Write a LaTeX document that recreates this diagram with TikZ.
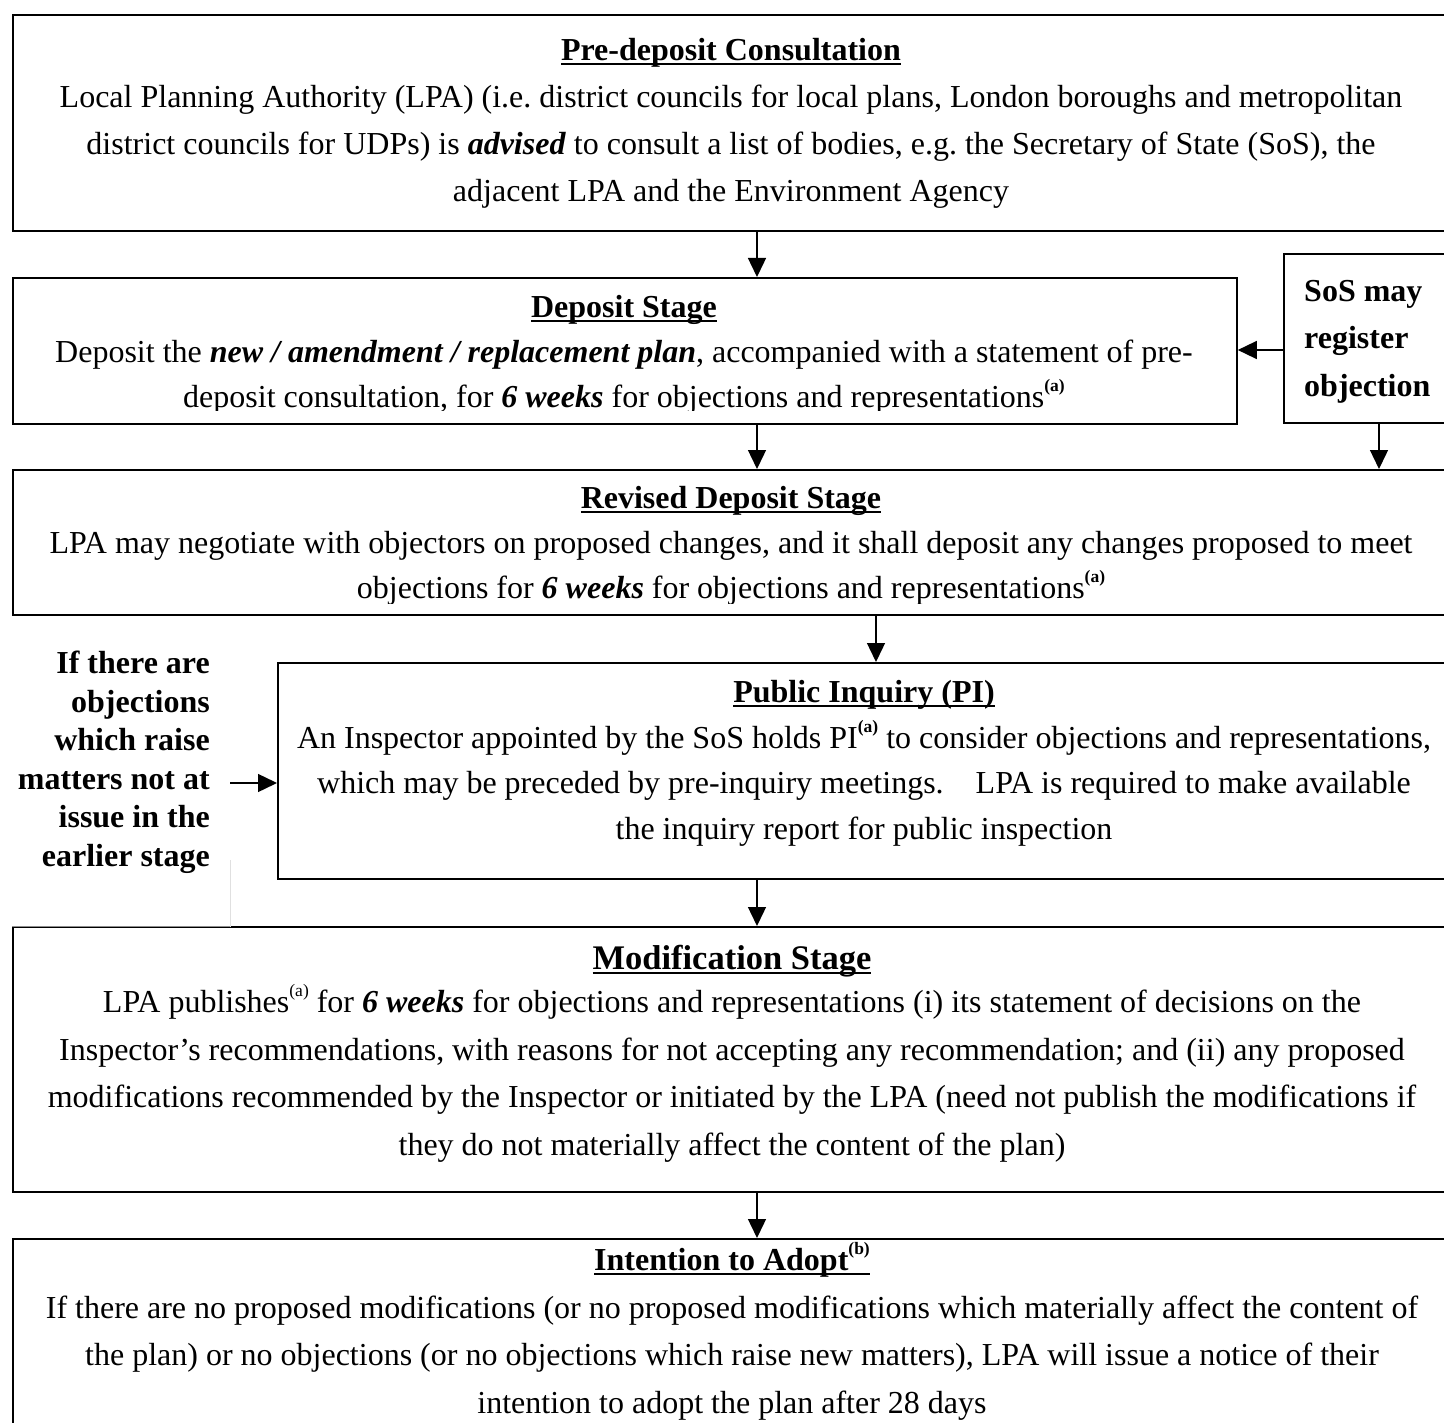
\documentclass[tikz,border=0pt]{standalone}
\usepackage{fontspec}
\setmainfont{Liberation Serif}
\usetikzlibrary{arrows.meta}
\frenchspacing
\newcommand\ttl[1]{\setbox0\hbox{\bfseries #1}\rlap{\rule[-4.5pt]{\wd0}{2pt}}\box0}
\newcommand\supa[1]{\raisebox{0.5em}{\fontsize{17.5}{17.5}\selectfont #1}}
\newcommand\bi[1]{\textbf{\textit{#1}}}
\begin{document}
\begin{tikzpicture}[x=1pt,y=-1pt,
  box/.style={draw=black,line width=1.8pt,rectangle,inner sep=0pt,anchor=north west},
  body/.style={align=center,inner sep=0pt,anchor=base,font=\fontsize{32}{46.5}\selectfont},
  side/.style={inner sep=0pt,font=\bfseries\fontsize{32}{38.5}\selectfont},
  arr/.style={line width=1.4pt,-{Triangle[length=19pt,width=18pt]}}]
\clip (0,0) rectangle (1444,1423);
\fill[white] (0,0) rectangle (1444,1423);
% columns / rows for connectors
\coordinate (colA) at (757,0);
\coordinate (colB) at (876,0);
\coordinate (colC) at (1379,0);
\coordinate (rowS) at (0,350);
\coordinate (lblend) at (230,783);
% boxes
\node[box,minimum width=1439pt,minimum height=216pt] (b1) at (12,14) {};
\node[box,minimum width=1224pt,minimum height=146pt] (b2) at (12,277) {};
\node[box,minimum width=168pt,minimum height=169pt] (sos) at (1283,253) {};
\node[box,minimum width=1439pt,minimum height=145pt] (b3) at (12,469) {};
\node[box,minimum width=1174pt,minimum height=216pt] (b4) at (277,662) {};
\node[box,minimum width=1439pt,minimum height=265pt] (b5) at (12,926) {};
\node[box,minimum width=1439pt,minimum height=260pt] (b6) at (12,1238) {};
% texts (anchor base = baseline of the last line)
\node[body,font=\fontsize{32}{47.3}\selectfont] (t1) at (731,202) {\ttl{Pre-deposit Consultation}\\
Local Planning Authority (LPA) (i.e. district councils for local plans, London boroughs and metropolitan\\
district councils for UDPs) is \bi{advised} to consult a list of bodies, e.g. the Secretary of State (SoS), the\\
adjacent LPA and the Environment Agency};
\begin{scope}
\clip (0,0) rectangle (1444,411);
\node[body,font=\fontsize{32}{45}\selectfont] (t2) at (624,407) {\ttl{Deposit Stage}\\
Deposit the \bi{new / amendment / replacement plan}, accompanied with a statement of pre-\\
deposit consultation, for \bi{6 weeks} for objections and representations\supa{\bfseries(a)}};
\end{scope}
\node[side,align=left,anchor=base west,font=\bfseries\fontsize{32}{47.5}\selectfont] (sost) at (1304,396) {SoS may\\register\\objection};
\begin{scope}
\clip (0,0) rectangle (1444,603);
\node[body,font=\fontsize{32}{45}\selectfont] (t3) at (731,598) {\ttl{Revised Deposit Stage}\\
LPA may negotiate with objectors on proposed changes, and it shall deposit any changes proposed to meet\\
objections for \bi{6 weeks} for objections and representations\supa{\bfseries(a)}};
\end{scope}
\node[body,font=\fontsize{32}{45.5}\selectfont] (t4) at (864,839) {\ttl{Public Inquiry (PI)}\\
An Inspector appointed by the SoS holds PI\supa{\bfseries(a)} to consider objections and representations,\\
which may be preceded by pre-inquiry meetings.\quad LPA is required to make available\\
the inquiry report for public inspection};
\node[body,font=\fontsize{32}{47.5}\selectfont] (t5) at (732,1155) {{\fontsize{34.5}{40}\selectfont\ttl{Modification Stage}}\\[-4pt]
LPA publishes\supa{(a)} for \bi{6 weeks} for objections and representations (i) its statement of decisions on the\\
Inspector’s recommendations, with reasons for not accepting any recommendation; and (ii) any proposed\\
modifications recommended by the Inspector or initiated by the LPA (need not publish the modifications if\\
they do not materially affect the content of the plan)};
\node[body,font=\fontsize{32}{47.5}\selectfont] (t6) at (732,1413) {\ttl{Intention to Adopt\supa{(b)}}\\
If there are no proposed modifications (or no proposed modifications which materially affect the content of\\
the plan) or no objections (or no objections which raise new matters), LPA will issue a notice of their\\
intention to adopt the plan after 28 days};
% left label, partly covering the top of the modification box
\fill[white,opacity=0.55] (0,630) rectangle (230,927);
\draw[black!12,line width=1pt] (230,860) -- (230,927);
\node[side,align=right,anchor=base east] (lbl) at (210,866) {If there are\\objections\\which raise\\matters not at\\issue in the\\earlier stage};
% connectors
\draw[arr] (b1.south -| colA) -- (b2.north -| colA);
\draw[arr] (b2.south -| colA) -- (b3.north -| colA);
\draw[arr] (sos.west |- rowS) -- (b2.east |- rowS);
\draw[arr] (sos.south -| colC) -- (b3.north -| colC);
\draw[arr] (b3.south -| colB) -- (b4.north -| colB);
\draw[arr] (lblend) -- (b4.west |- lblend);
\draw[arr] (b4.south -| colA) -- (b5.north -| colA);
\draw[arr] (b5.south -| colA) -- (b6.north -| colA);
\end{tikzpicture}
\end{document}
